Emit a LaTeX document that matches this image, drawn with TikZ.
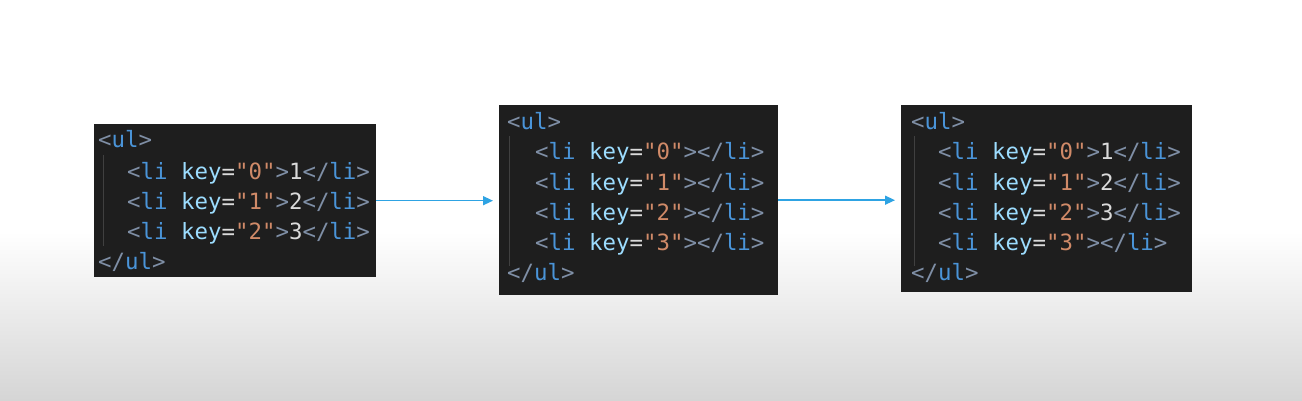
\documentclass[tikz,border=0pt]{standalone}
\usepackage{fontspec}
\setmonofont{DejaVu Sans Mono}
\usetikzlibrary{arrows.meta}
\definecolor{codebg}{HTML}{1E1E1E}
\definecolor{brk}{HTML}{7F8FA6}
\definecolor{tagc}{HTML}{4A94D8}
\definecolor{attrc}{HTML}{9CDCFE}
\definecolor{strc}{HTML}{D08A68}
\definecolor{txtc}{HTML}{DADADA}
\definecolor{guide}{HTML}{404040}
\definecolor{flowc}{HTML}{2EA3E3}
\definecolor{floor}{HTML}{D5D5D5}
\newcommand{\cB}[1]{\textcolor{brk}{#1}}
\newcommand{\cT}[1]{\textcolor{tagc}{#1}}
\newcommand{\cA}[1]{\textcolor{attrc}{#1}}
\newcommand{\cS}[1]{\textcolor{strc}{#1}}
\newcommand{\cW}[1]{\textcolor{txtc}{#1}}
\newcommand{\LIline}[2]{\cB{<}\cT{li} \cA{key}\cW{=}\cS{"#1"}\cB{>}\cW{#2}\cB{</}\cT{li}\cB{>}}
\newcommand{\ULopen}{\cB{<}\cT{ul}\cB{>}}
\newcommand{\ULclose}{\cB{</}\cT{ul}\cB{>}}
\tikzset{
  codebox/.style={draw=none, fill=codebg, anchor=north west, inner sep=0pt},
  codeline/.style={anchor=base west, inner sep=0pt, font=\ttfamily\fontsize{22.4}{30}\selectfont},
  guideline/.style={draw=guide, line width=1pt},
  flow/.style={draw=flowc, line width=1.4pt, -{Triangle[length=10pt,width=9pt]}, shorten >=6pt}
}
\begin{document}
\begin{tikzpicture}[x=1pt,y=-1pt]
\useasboundingbox (0,0) rectangle (1302,401);
\fill[white] (0,0) rectangle (1302,232);
\shade[top color=white, bottom color=floor] (0,231) rectangle (1302,401);

% box 1
\node[codebox, minimum width=282pt, minimum height=153pt] (b1) at (94,124) {};
\draw[guideline] (103,155) -- (103,246);
\node[codeline] (b1l0) at (98,148) {\ULopen};
\node[codeline] (b1l1) at (127,179) {\LIline{0}{1}};
\node[codeline] (b1l2) at (127,209) {\LIline{1}{2}};
\node[codeline] (b1l3) at (127,239) {\LIline{2}{3}};
\node[codeline] (b1l4) at (98,269) {\ULclose};

% box 2
\node[codebox, minimum width=279pt, minimum height=190pt] (b2) at (499,105) {};
\draw[guideline] (509,136) -- (509,266);
\node[codeline] (b2l0) at (507,130) {\ULopen};
\node[codeline] (b2l1) at (535,160) {\LIline{0}{}};
\node[codeline] (b2l2) at (535,190) {\LIline{1}{}};
\node[codeline] (b2l3) at (535,220) {\LIline{2}{}};
\node[codeline] (b2l4) at (535,250) {\LIline{3}{}};
\node[codeline] (b2l5) at (507,280) {\ULclose};

% box 3
\node[codebox, minimum width=291pt, minimum height=187pt] (b3) at (901,105) {};
\draw[guideline] (914,136) -- (914,266);
\node[codeline] (b3l0) at (911,130) {\ULopen};
\node[codeline] (b3l1) at (938,160) {\LIline{0}{1}};
\node[codeline] (b3l2) at (938,190) {\LIline{1}{2}};
\node[codeline] (b3l3) at (938,220) {\LIline{2}{3}};
\node[codeline] (b3l4) at (938,250) {\LIline{3}{}};
\node[codeline] (b3l5) at (911,280) {\ULclose};

% arrows
\draw[flow] (b1.east) -- (b2.west |- b1.east);
\draw[flow] (b2.east) -- (b3.west |- b2.east);
\end{tikzpicture}
\end{document}
